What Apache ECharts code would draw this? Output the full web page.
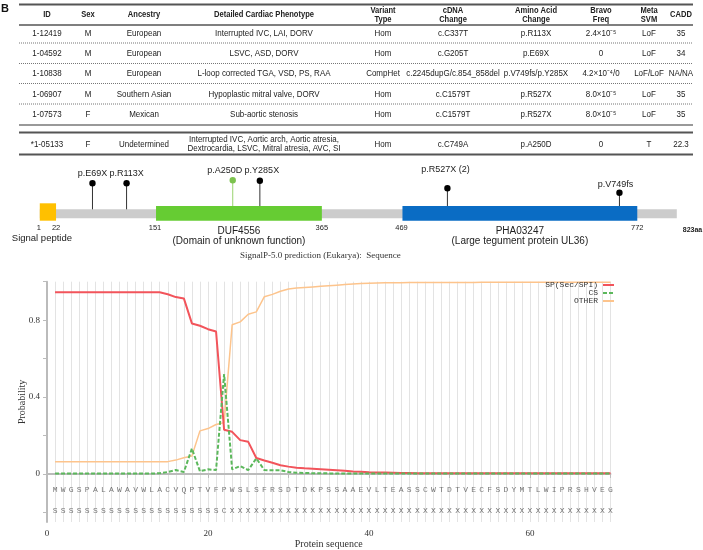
<!DOCTYPE html>
<html>
<head>
<meta charset="utf-8">
<script src="https://cdn.jsdelivr.net/npm/echarts@6/dist/echarts.min.js"></script>
<style>
  html, body { margin: 0; padding: 0; background: #fff; }
  #main { width: 703px; height: 550px; }
</style>
</head>
<body>
<div id="main"></div>
<script>
// ---- table ----
const headers = ['ID', 'Sex', 'Ancestry', 'Detailed Cardiac Phenotype', 'Variant\nType', 'cDNA\nChange', 'Amino Acid\nChange', 'Bravo\nFreq', 'Meta\nSVM', 'CADD'];
const rows = [
  ['1-12419', 'M', 'European', 'Interrupted IVC, LAI, DORV', 'Hom', 'c.C337T', 'p.R113X', '2.4×10⁻⁵', 'LoF', '35'],
  ['1-04592', 'M', 'European', 'LSVC, ASD, DORV', 'Hom', 'c.G205T', 'p.E69X', '0', 'LoF', '34'],
  ['1-10838', 'M', 'European', 'L-loop corrected TGA, VSD, PS, RAA', 'CompHet', 'c.2245dupG/c.854_858del', 'p.V749fs/p.Y285X', '4.2×10⁻⁴/0', 'LoF/LoF', 'NA/NA'],
  ['1-06907', 'M', 'Southern Asian', 'Hypoplastic mitral valve, DORV', 'Hom', 'c.C1579T', 'p.R527X', '8.0×10⁻⁵', 'LoF', '35'],
  ['1-07573', 'F', 'Mexican', 'Sub-aortic stenosis', 'Hom', 'c.C1579T', 'p.R527X', '8.0×10⁻⁵', 'LoF', '35']
];
const extraRow = ['*1-05133', 'F', 'Undetermined', 'Interrupted IVC, Aortic arch, Aortic atresia,\nDextrocardia, LSVC, Mitral atresia, AVC, SI', 'Hom', 'c.C749A', 'p.A250D', '0', 'T', '22.3'];

// ---- protein diagram ----
const proteinLength = 823;
const domainNames = ['Signal peptide', 'DUF4556', 'PHA03247'];
const domainNotes = ['', '(Domain of unknown function)', '(Large tegument protein UL36)'];
const domainStarts = [1, 151, 469];
const domainEnds = [22, 365, 772];
const mutationNames = ['p.E69X', 'p.R113X', 'p.A250D', 'p.Y285X', 'p.R527X (2)', 'p.V749fs'];
const mutationPositions = [69, 113, 250, 285, 527, 749];
const highlightedMutation = 'p.A250D';

// ---- SignalP-5.0 ----
const sequence = 'MWGSPALAWAVWLACVQPTVFPWSLSFRSDTDKPSSAAEVLTEASSCWTDTVECFSDYMTLWIPRSHVEG'.split('');
const annotation = ('SSSSSSSSSS' + 'SSSSSSSSSS' + 'S' + 'C' +
  'XXXXXXXXXX' + 'XXXXXXXXXX' + 'XXXXXXXXXX' + 'XXXXXXXXXX' + 'XXXXXXXX').split('');
const spProb = [
  0.945, 0.945, 0.945, 0.945, 0.945, 0.945, 0.945, 0.945, 0.945, 0.945,
  0.945, 0.945, 0.945, 0.945, 0.935, 0.92, 0.913, 0.783, 0.771, 0.753,
  0.741, 0.23, 0.219, 0.176, 0.167, 0.083, 0.07, 0.058, 0.045, 0.038,
  0.032, 0.029, 0.027, 0.025, 0.022, 0.019, 0.016, 0.013, 0.011, 0.009,
  0.008, 0.007, 0.006, 0.005, 0.005, 0.004, 0.004, 0.004, 0.004, 0.004,
  0.004, 0.004, 0.004, 0.004, 0.004, 0.004, 0.004, 0.004, 0.004, 0.004,
  0.004, 0.004, 0.004, 0.004, 0.004, 0.004, 0.004, 0.004, 0.004, 0.004
];
const csProb = [
  0.002, 0.002, 0.002, 0.002, 0.002, 0.002, 0.002, 0.002, 0.002, 0.002,
  0.002, 0.002, 0.002, 0.004, 0.01, 0.02, 0.01, 0.132, 0.014, 0.024,
  0.02, 0.52, 0.024, 0.041, 0.02, 0.081, 0.02, 0.019, 0.019, 0.01,
  0.006, 0.005, 0.004, 0.003, 0.003, 0.002, 0.002, 0.002, 0.002, 0.002,
  0.002, 0.002, 0.002, 0.002, 0.002, 0.002, 0.002, 0.002, 0.002, 0.002,
  0.002, 0.002, 0.002, 0.002, 0.002, 0.002, 0.002, 0.002, 0.002, 0.002,
  0.002, 0.002, 0.002, 0.002, 0.002, 0.002, 0.002, 0.002, 0.002, 0.002
];
const otherProb = [
  0.064, 0.064, 0.064, 0.064, 0.064, 0.064, 0.064, 0.064, 0.064, 0.064,
  0.064, 0.064, 0.064, 0.064, 0.064, 0.072, 0.084, 0.093, 0.224, 0.236,
  0.257, 0.267, 0.776, 0.791, 0.831, 0.843, 0.922, 0.934, 0.95, 0.962,
  0.967, 0.97, 0.973, 0.976, 0.979, 0.982, 0.985, 0.988, 0.99, 0.992,
  0.993, 0.994, 0.995, 0.995, 0.996, 0.996, 0.996, 0.996, 0.996, 0.996,
  0.996, 0.996, 0.996, 0.997, 0.997, 0.997, 0.997, 0.997, 0.997, 0.997,
  0.997, 0.997, 0.997, 0.997, 0.997, 0.997, 0.997, 0.997, 0.997, 0.997
];

const SANS = 'Liberation Sans, Arial, sans-serif';
const SERIF = 'Liberation Serif, Times New Roman, serif';
const MONO = 'Liberation Mono, DejaVu Sans Mono, monospace';

var chart = echarts.init(document.getElementById('main'));

// table drawn as graphic elements
const colX = [47, 88, 144, 264, 383, 453, 536, 601, 649, 681];
const rowY = [33.5, 53.5, 73.7, 94, 114.3];
const graphic = [];
function hline(y, w, color, dash) {
  return { type: 'line', silent: true, shape: { x1: 19, y1: y, x2: 693, y2: y },
    style: { stroke: color, lineWidth: w, lineDash: dash || null } };
}
function cell(text, x, y, bold) {
  return { type: 'text', x: x, y: y, scaleX: 0.84, silent: true,
    style: { text: text, fontFamily: SANS, fontSize: bold ? 9 : 9.5, fontWeight: bold ? 'bold' : 'normal',
      fill: '#222', align: 'center', verticalAlign: 'middle', lineHeight: 9.5 } };
}
graphic.push({ type: 'text', x: 1, y: 3, silent: true,
  style: { text: 'B', fontFamily: SANS, fontSize: 11, fontWeight: 'bold', fill: '#111' } });
graphic.push(hline(4.5, 2, '#555'));
graphic.push(hline(25, 1.5, '#555'));
[43, 63.5, 83.5, 104].forEach(y => graphic.push(hline(y, 1, '#777', [1, 1])));
graphic.push(hline(125, 2, '#999'));
graphic.push(hline(132.5, 2, '#555'));
graphic.push(hline(154.5, 2, '#555'));
headers.forEach((h, c) => graphic.push(cell(h, colX[c], 14.8, true)));
rows.forEach((r, k) => r.forEach((t, c) => graphic.push(cell(t, colX[c], rowY[k], false))));
extraRow.forEach((t, c) => graphic.push(cell(t, colX[c], 144, false)));
graphic.push({ type: 'text', x: 240, y: 251.5, silent: true,
  style: { text: 'SignalP-5.0 prediction (Eukarya):  Sequence', fontFamily: SERIF, fontSize: 9, fill: '#333' } });

// protein diagram layout (levels on a hidden 0..100 axis, label x nudges in px)
const dotLevels = [66.7, 66.7, 69.7, 69.3, 61.7, 57.3];
const labelLevels = [76, 76, 79, 79, 80, 65];
const labelNudge = [0, 0, -8, 2, -2, -4];

function renderBackbone(params, api) {
  const s = api.coord([api.value(0), 40.7]);
  const e = api.coord([api.value(1), 31.7]);
  return { type: 'group', children: [
    { type: 'rect', shape: { x: s[0], y: s[1], width: e[0] - s[0], height: e[1] - s[1] }, style: { fill: '#cccccc' } },
    { type: 'text', x: e[0] + 6, y: api.coord([0, 20])[1],
      style: { text: proteinLength + 'aa', fontFamily: SANS, fontSize: 7, fontWeight: 'bold', fill: '#222', verticalAlign: 'middle' } }
  ] };
}
function renderDomain(params, api) {
  const i = params.dataIndex;
  const colors = ['#ffc000', '#66cc33', '#0a6cc4'];
  const x0 = api.coord([api.value(0), 0])[0];
  const x1 = api.coord([api.value(1), 0])[0];
  const top = api.coord([0, i === 0 ? 46.7 : 44])[1];
  const bot = api.coord([0, 29.3])[1];
  const yNum = api.coord([0, 21.7])[1];
  const mid = (x0 + x1) / 2;
  const txt = (t, x, y, size, align) => ({ type: 'text', x: x, y: y,
    style: { text: t, fontFamily: SANS, fontSize: size, fill: '#222', align: align || 'center', verticalAlign: 'middle' } });
  const kids = [
    { type: 'rect', shape: { x: x0, y: top, width: x1 - x0, height: bot - top }, style: { fill: colors[i] } },
    txt(String(api.value(0)), x0 - 1, yNum, 7.5),
    txt(String(api.value(1)), x1, yNum, 7.5)
  ];
  if (domainNotes[i]) {
    kids.push(txt(domainNames[i], mid, api.coord([0, 19])[1], 10));
    kids.push(txt(domainNotes[i], mid, api.coord([0, 9])[1], 10));
  } else {
    kids.push(txt(domainNames[i], mid - 6, api.coord([0, 11.5])[1], 9.5));
  }
  return { type: 'group', children: kids };
}
function renderMutation(params, api) {
  const i = params.dataIndex;
  const hl = mutationNames[i] === highlightedMutation;
  const base = api.coord([api.value(0), 36]);
  const dot = api.coord([api.value(0), dotLevels[i]]);
  const lab = api.coord([api.value(0), labelLevels[i]]);
  return { type: 'group', children: [
    { type: 'line', shape: { x1: base[0], y1: base[1], x2: dot[0], y2: dot[1] },
      style: { stroke: hl ? '#9ad36f' : '#333', lineWidth: 1 } },
    { type: 'circle', shape: { cx: dot[0], cy: dot[1], r: 3.2 }, style: { fill: hl ? '#7cc24e' : '#000' } },
    { type: 'text', x: lab[0] + labelNudge[i], y: lab[1],
      style: { text: mutationNames[i], fontFamily: SANS, fontSize: 9, fill: '#222', align: 'center', verticalAlign: 'middle' } }
  ] };
}

const seqRow = (letters, level) => ({
  type: 'scatter', xAxisIndex: 0, yAxisIndex: 0, silent: true, symbolSize: 0,
  data: letters.map((c, i) => [i + 1, level, c]),
  label: { show: true, position: 'inside', formatter: p => p.value[2],
    fontFamily: MONO, fontSize: 8, color: '#555' }
});

const option = {
  animation: false,
  graphic: graphic,
  legend: {
    data: ['SP(Sec/SPI)', 'CS', 'OTHER'], orient: 'vertical', right: 88, top: 281,
    icon: 'inherit', align: 'right', itemWidth: 11, itemHeight: 6, itemGap: 0, padding: 0,
    itemStyle: { opacity: 0 },
    textStyle: { fontFamily: MONO, fontSize: 8, lineHeight: 7, color: '#333' }
  },
  grid: [
    { left: 47, right: 92.5, top: 281.7, bottom: 27 },
    { left: 39, right: 26.2, top: 150, height: 100 }
  ],
  xAxis: [
    { gridIndex: 0, type: 'value', min: 0, max: 70, interval: 10, offset: 4,
      name: 'Protein sequence', nameLocation: 'middle', nameGap: 13, nameMoveOverlap: false,
      nameTextStyle: { fontFamily: SERIF, fontSize: 10, color: '#333' },
      axisLine: { lineStyle: { color: '#bbb', width: 2 } },
      axisTick: { length: 4, lineStyle: { color: '#bbb' } },
      axisLabel: { margin: 3, fontFamily: SERIF, fontSize: 9, color: '#333',
        formatter: v => (v % 20 === 0 ? String(v) : '') },
      splitLine: { show: true, showMinLine: false, lineStyle: { color: '#e3e3e3', width: 1 } },
      minorTick: { show: false, splitNumber: 10 },
      minorSplitLine: { show: true, lineStyle: { color: '#e3e3e3', width: 1 } } },
    { gridIndex: 1, type: 'value', min: 0, max: proteinLength, show: false }
  ],
  yAxis: [
    { gridIndex: 0, type: 'value', min: -0.25, max: 1, offset: 4,
      name: 'Probability', nameLocation: 'middle', nameGap: 16, nameMoveOverlap: false,
      nameTextStyle: { fontFamily: SERIF, fontSize: 10, color: '#333' },
      axisLine: { show: true, lineStyle: { color: '#bbb', width: 2 } },
      axisTick: { show: true, length: 4, lineStyle: { color: '#bbb' }, customValues: [-0.2, 0, 0.2, 0.4, 0.6, 0.8, 1.0] },
      axisLabel: { margin: 3, fontFamily: SERIF, fontSize: 9, color: '#333', customValues: [0, 0.4, 0.8] },
      splitLine: { show: false } },
    { gridIndex: 1, type: 'value', min: 0, max: 100, show: false }
  ],
  series: [
    { name: 'SP(Sec/SPI)', type: 'line', xAxisIndex: 0, yAxisIndex: 0, symbol: 'none', z: 4,
      data: spProb.map((v, i) => [i + 1, v]),
      itemStyle: { color: '#f2545b' }, lineStyle: { color: '#f2545b', width: 2 } },
    { name: 'CS', type: 'line', xAxisIndex: 0, yAxisIndex: 0, symbol: 'none', z: 5,
      data: csProb.map((v, i) => [i + 1, v]),
      itemStyle: { color: '#5cb85c' }, lineStyle: { color: '#5cb85c', width: 2, type: [4, 2] } },
    { name: 'OTHER', type: 'line', xAxisIndex: 0, yAxisIndex: 0, symbol: 'none', z: 3,
      data: otherProb.map((v, i) => [i + 1, v]),
      itemStyle: { color: '#fdc48c' }, lineStyle: { color: '#fdc48c', width: 1.5 } },
    seqRow(sequence, -0.085),
    seqRow(annotation, -0.19),
    { type: 'custom', xAxisIndex: 1, yAxisIndex: 1, silent: true, z: 2,
      data: mutationPositions.map(p => [p]), renderItem: renderMutation },
    { type: 'custom', xAxisIndex: 1, yAxisIndex: 1, silent: true, z: 3,
      data: [[1, proteinLength]], renderItem: renderBackbone },
    { type: 'custom', xAxisIndex: 1, yAxisIndex: 1, silent: true, z: 4,
      data: domainStarts.map((s, i) => [s, domainEnds[i]]), renderItem: renderDomain }
  ]
};
chart.setOption(option);
</script>
</body>
</html>
